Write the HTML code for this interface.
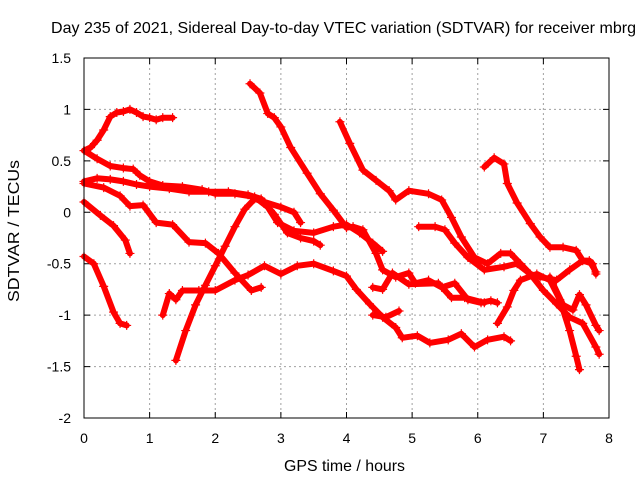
<!DOCTYPE html>
<html><head><meta charset="utf-8"><style>
html,body{margin:0;padding:0;background:#fff;}
svg{display:block;font-family:"Liberation Sans",sans-serif;}
</style></head><body>
<svg id="chart" width="640" height="480" viewBox="0 0 640 480">
<rect width="640" height="480" fill="#fff"/>
<text x="51" y="33" font-size="16" textLength="585" lengthAdjust="spacingAndGlyphs" fill="#000">Day 235 of 2021, Sidereal Day-to-day VTEC variation (SDTVAR) for receiver mbrg</text>
<text x="284" y="471" font-size="16" textLength="121" lengthAdjust="spacingAndGlyphs" fill="#000">GPS time / hours</text>
<text transform="translate(19,302) rotate(-90)" font-size="16" textLength="142" lengthAdjust="spacingAndGlyphs" fill="#000">SDTVAR / TECUs</text>
<g id="grid"></g>
<g id="ticks"></g>
<g id="series"></g>
<rect x="84" y="58" width="525" height="360" fill="none" stroke="#000" stroke-width="1"/>
</svg>
<script>
const xTicks = [0,1,2,3,4,5,6,7,8];
const yTicks = [-2,-1.5,-1,-0.5,0,0.5,1,1.5];
const yTickLabels = ["-2","-1.5","-1","-0.5","0","0.5","1","1.5"];
const track1 = [[0,0.6],[0.1,0.63],[0.2,0.7],[0.3,0.8],[0.4,0.93],[0.5,0.97],[0.6,0.98],[0.7,1.0],[0.8,0.97],[0.9,0.93],[1.0,0.92],[1.1,0.9],[1.2,0.92],[1.35,0.92]];
const track2 = [[0,0.6],[0.2,0.52],[0.4,0.45],[0.6,0.43],[0.75,0.42],[0.85,0.36],[1.0,0.3],[1.2,0.26],[1.5,0.25],[1.8,0.22],[2.0,0.18],[2.3,0.18],[2.6,0.15],[2.8,0.05],[2.95,-0.1],[3.2,-0.18],[3.5,-0.2],[3.8,-0.14],[4.0,-0.12],[4.2,-0.2],[4.4,-0.3],[4.55,-0.38]];
const track3 = [[0,0.3],[0.2,0.33],[0.4,0.32],[0.6,0.3],[0.8,0.27],[1.0,0.25],[1.3,0.23],[1.6,0.2],[1.9,0.2],[2.2,0.2],[2.5,0.17],[2.7,0.13],[2.9,-0.02],[3.1,-0.2],[3.3,-0.25],[3.5,-0.28],[3.6,-0.32]];
const track4 = [[0,0.28],[0.3,0.24],[0.55,0.16],[0.7,0.06],[0.9,0.07],[1.1,-0.1],[1.35,-0.12],[1.6,-0.29],[1.85,-0.3],[2.05,-0.4],[2.3,-0.59],[2.55,-0.76],[2.7,-0.73]];
const track5 = [[0,0.1],[0.25,-0.03],[0.45,-0.13],[0.63,-0.27],[0.7,-0.4]];
const track6 = [[0,-0.43],[0.15,-0.5],[0.3,-0.72],[0.45,-0.97],[0.55,-1.08],[0.65,-1.1]];
const track7 = [[1.4,-1.44],[1.55,-1.15],[1.7,-0.9],[1.85,-0.71],[2.0,-0.52],[2.15,-0.33],[2.3,-0.14],[2.45,0.03],[2.6,0.13],[2.75,0.1],[3.0,0.05],[3.2,0.0],[3.3,-0.1]];
const track8 = [[1.2,-1.0],[1.3,-0.79],[1.4,-0.85],[1.5,-0.76],[1.75,-0.76],[2.0,-0.76],[2.3,-0.66],[2.5,-0.61],[2.75,-0.52],[3.0,-0.6],[3.25,-0.52],[3.5,-0.5],[3.8,-0.57],[4.0,-0.62],[4.15,-0.75],[4.35,-0.89],[4.55,-1.02],[4.75,-1.12],[4.85,-1.22],[5.08,-1.2],[5.27,-1.27],[5.55,-1.24],[5.75,-1.18],[5.95,-1.31],[6.15,-1.24],[6.4,-1.21],[6.5,-1.25]];
const track9 = [[2.53,1.25],[2.68,1.16],[2.8,0.96],[2.9,0.92],[3.0,0.83],[3.15,0.63],[3.4,0.38],[3.6,0.18],[3.8,0.02],[4.0,-0.15],[4.1,-0.14],[4.25,-0.17],[4.45,-0.4],[4.55,-0.56],[4.75,-0.63],[4.95,-0.59],[5.05,-0.69],[5.25,-0.66],[5.45,-0.73],[5.65,-0.69],[5.85,-0.85],[6.05,-0.88],[6.2,-0.86],[6.3,-0.88]];
const track10 = [[3.9,0.88],[4.05,0.67],[4.25,0.41],[4.45,0.31],[4.65,0.21],[4.75,0.12],[4.95,0.21],[5.25,0.18],[5.45,0.12],[5.6,-0.05],[5.75,-0.24],[5.95,-0.44],[6.15,-0.5],[6.35,-0.4],[6.5,-0.4],[6.65,-0.5],[6.8,-0.6],[7.0,-0.76],[7.2,-0.89],[7.4,-1.02],[7.6,-1.08],[7.8,-1.31],[7.85,-1.38]];
const track11 = [[5.1,-0.14],[5.35,-0.14],[5.5,-0.17],[5.65,-0.3],[5.85,-0.44],[6.1,-0.56],[6.4,-0.53],[6.6,-0.5],[6.8,-0.6],[6.95,-0.63],[7.2,-0.66],[7.4,-0.56],[7.6,-0.47],[7.75,-0.5],[7.8,-0.6]];
const track12 = [[6.1,0.44],[6.25,0.53],[6.4,0.47],[6.45,0.28],[6.6,0.09],[6.8,-0.11],[6.95,-0.24],[7.1,-0.34],[7.3,-0.34],[7.5,-0.37],[7.6,-0.47],[7.7,-0.47],[7.8,-0.58]];
const track13 = [[6.3,-1.08],[6.45,-0.92],[6.55,-0.76],[6.65,-0.66],[6.9,-0.6],[7.1,-0.66],[7.25,-0.85],[7.4,-1.15],[7.5,-1.4],[7.55,-1.53]];
const track14 = [[7.1,-0.63],[7.3,-0.9],[7.45,-0.95],[7.55,-0.8],[7.65,-0.9],[7.8,-1.1],[7.85,-1.15]];
const track15 = [[4.4,-0.73],[4.55,-0.75],[4.7,-0.59],[4.95,-0.7],[5.4,-0.69],[5.6,-0.83],[5.8,-0.83],[6.1,-0.88]];
const track16 = [[4.4,-1.0],[4.6,-1.02],[4.8,-0.96]];
const tracks = [track1,track2,track3,track4,track5,track6,track7,track8,track9,track10,track11,track12,track13,track14,track15,track16];

const NS = "http://www.w3.org/2000/svg";
const X0 = 84, X1 = 609, Y0 = 418, Y1 = 58;
function xs(v){ return X0 + (v - 0) / 8 * (X1 - X0); }
function ys(v){ return Y0 - (v + 2) / 3.5 * (Y0 - Y1); }
function mk(tag, attrs){ const e = document.createElementNS(NS, tag); for (const k in attrs) e.setAttribute(k, attrs[k]); return e; }

const grid = document.getElementById('grid');
const ticks = document.getElementById('ticks');
xTicks.forEach((t) => {
  const x = xs(t);
  if (t > 0 && t < 8) {
    const g = mk('line', {x1:x, y1:Y1, x2:x, y2:Y0, stroke:'#a0a0a0', 'stroke-dasharray':'2,3', 'stroke-width':1});
    
    
    grid.appendChild(g);
  }
  const tk = mk('path', {d:`M${x},${Y0}v-6M${x},${Y1}v6`, stroke:'#000', 'stroke-width':1});
  
  
  ticks.appendChild(tk);
  const lb = mk('text', {x:x, y:443, 'font-size':14, 'text-anchor':'middle', fill:'#000'});
  lb.textContent = String(t);
  
  
  ticks.appendChild(lb);
});
yTicks.forEach((t, i) => {
  const y = ys(t);
  if (t > -2 && t < 1.5) {
    const g = mk('line', {x1:X0, y1:y, x2:X1, y2:y, stroke:'#a0a0a0', 'stroke-dasharray':'2,3', 'stroke-width':1});
    
    
    grid.appendChild(g);
  }
  const tk = mk('path', {d:`M${X0},${y}h6M${X1},${y}h-6`, stroke:'#000', 'stroke-width':1});
  
  
  ticks.appendChild(tk);
  const lb = mk('text', {x:71, y:y + 5, 'font-size':14, 'text-anchor':'end', fill:'#000'});
  lb.textContent = yTickLabels[i];
  
  
  ticks.appendChild(lb);
});

const series = document.getElementById('series');
tracks.forEach((tr) => {
  const pts = tr.map(p => xs(p[0]).toFixed(1) + ',' + ys(p[1]).toFixed(1)).join(' ');
  const pl = mk('polyline', {points:pts, fill:'none', stroke:'#ff0000', 'stroke-width':6, 'stroke-linejoin':'round', 'stroke-linecap':'round'});
  
  
  series.appendChild(pl);
  tr.forEach((p) => {
    const x = xs(p[0]), y = ys(p[1]);
    const m = mk('path', {d:`M${x-4.5},${y}h9M${x},${y-4.5}v9`, stroke:'#ff0000', 'stroke-width':1.2});
    
    
    series.appendChild(m);
  });
});
</script>
</body></html>
